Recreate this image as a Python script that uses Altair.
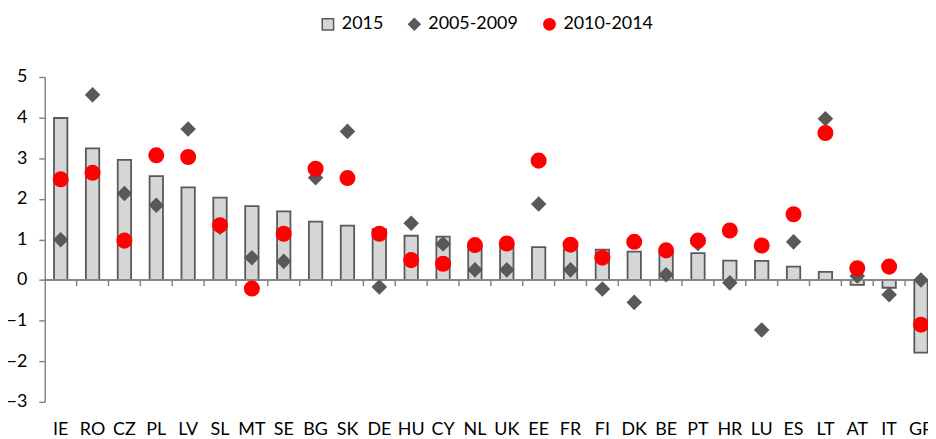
import altair as alt
import pandas as pd

countries = ["IE", "RO", "CZ", "PL", "LV", "SL", "MT", "SE", "BG", "SK", "DE", "HU", "CY", "NL",
             "UK", "EE", "FR", "FI", "DK", "BE", "PT", "HR", "LU", "ES", "LT", "AT", "IT", "GR"]
v2015 = [3.99, 3.24, 2.96, 2.56, 2.28, 2.03, 1.82, 1.69, 1.44, 1.34, 1.25, 1.09, 1.07, 0.85,
         0.83, 0.81, 0.75, 0.75, 0.70, 0.67, 0.66, 0.48, 0.47, 0.33, 0.20, -0.12, -0.19, -1.79]
v0509 = [0.99, 4.56, 2.13, 1.84, 3.72, 1.30, 0.55, 0.46, 2.52, 3.66, -0.17, 1.40, 0.89, 0.25,
         0.25, 1.87, 0.25, -0.22, -0.55, 0.13, 0.90, -0.07, -1.23, 0.94, 3.97, 0.10, -0.36, 0.00]
v1014 = [2.48, 2.64, 0.97, 3.07, 3.03, 1.35, -0.21, 1.14, 2.74, 2.51, 1.14, 0.49, 0.40, 0.86,
         0.90, 2.94, 0.87, 0.55, 0.94, 0.73, 0.97, 1.22, 0.85, 1.62, 3.62, 0.29, 0.33, -1.10]
series = ["2015", "2005-2009", "2010-2014"]
y_ticks = [-3, -2, -1, 0, 1, 2, 3, 4, 5]

rows = []
for name, vals in zip(series, [v2015, v0509, v1014]):
    for c, v in zip(countries, vals):
        rows.append({"country": c, "series": name, "value": v})
df = pd.DataFrame(rows)
tick_df = pd.DataFrame({"country": countries[1:]})

W, H = 889, 327
XR = 898  # full band range; the last band runs past the visible edge
FONT = "Lato"
GRAY = "#868686"

x_scale = alt.Scale(domain=countries, paddingInner=0, paddingOuter=0, range=[0, XR])
y_scale = alt.Scale(domain=[-3, 5], nice=False, zero=False)

x_axis = alt.Axis(title=None, labelAngle=0, domain=False, ticks=False, labelPadding=19,
                  labelFontSize=18, labelFont=FONT, labelColor="black", grid=False)
y_axis = alt.Axis(title=None, values=y_ticks, grid=False, domainColor=GRAY, domainWidth=1.5,
                  tickColor=GRAY, tickWidth=1.5, tickSize=6, labelPadding=12,
                  labelFontSize=18, labelFont=FONT, labelColor="black")

legend = alt.Legend(title=None, orient="none", direction="horizontal", legendX=276, legendY=-62,
                    labelFontSize=18, labelFont=FONT, labelColor="black", symbolSize=130,
                    symbolStrokeWidth=1.5, columnPadding=22, labelOffset=5)

color = alt.Color("series:N", scale=alt.Scale(domain=series, range=["#d6d6d6", "#595959", "#ff0000"]),
                  legend=legend)
stroke = alt.Stroke("series:N", scale=alt.Scale(domain=series, range=["#595959", "#595959", "#ff0000"]),
                    legend=legend)
shape = alt.Shape("series:N", scale=alt.Scale(domain=series, range=["square", "diamond", "circle"]),
                  legend=legend)

xenc = alt.X("country:N", scale=x_scale, sort=countries, axis=x_axis)
yenc = alt.Y("value:Q", scale=y_scale, axis=y_axis)

bars = alt.Chart(df).transform_filter(alt.datum.series == "2015").mark_bar(
    width=alt.RelativeBandSize(0.42), strokeWidth=1.8
).encode(x=xenc, y=yenc, color=color, stroke=stroke)

zero = alt.Chart(df).mark_rule(color=GRAY, strokeWidth=1.5).encode(
    y=alt.datum(0), x=alt.value(0), x2=alt.value(W)
)

ticks = alt.Chart(tick_df).mark_rule(color=GRAY, strokeWidth=1.5).encode(
    x=alt.X("country:N", scale=x_scale, sort=countries, axis=x_axis, bandPosition=0),
    y=alt.datum(0), y2=alt.datum(-0.15)
)

diamonds = alt.Chart(df).transform_filter(alt.datum.series == "2005-2009").mark_point(
    filled=True, opacity=1, size=165
).encode(x=xenc, y=yenc, color=color, stroke=stroke, shape=shape)

dots = alt.Chart(df).transform_filter(alt.datum.series == "2010-2014").mark_point(
    filled=True, opacity=1, size=200
).encode(x=xenc, y=yenc, color=color, stroke=stroke, shape=shape)

chart = alt.layer(bars, zero, ticks, diamonds, dots).properties(
    width=W, height=H,
    autosize=alt.AutoSizeParams(type="none"),
    padding={"left": 37, "top": 68, "right": 0, "bottom": 42}
).configure_view(stroke=None)

chart.save("out.html", embed_options={"renderer": "svg", "actions": False})
